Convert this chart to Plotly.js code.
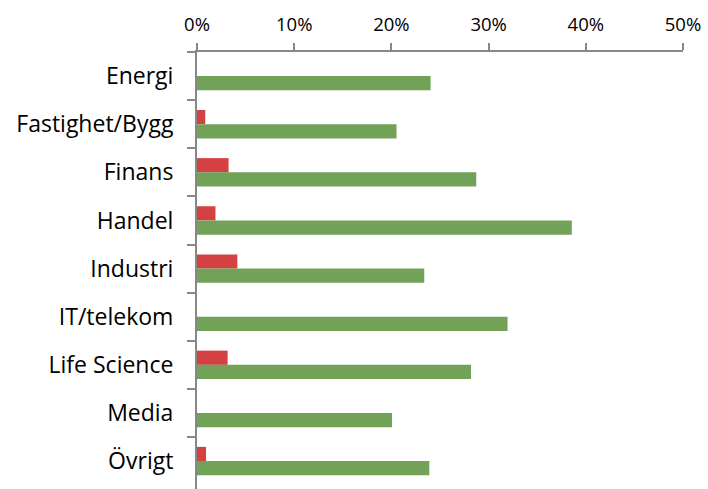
<!DOCTYPE html>
<html>
<head>
<meta charset="utf-8">
<script src="https://cdn.plot.ly/plotly-3.0.1.min.js"></script>
<style>html,body{margin:0;padding:0;background:#fff;}#chart{width:708px;height:489px;}</style>
</head>
<body>
<div id="chart"></div>
<script>
const categories = ["Energi","Fastighet/Bygg","Finans","Handel","Industri","IT/telekom","Life Science","Media","Övrigt"];
const redValues = [0, 0.0085, 0.0325, 0.019, 0.0415, 0, 0.0315, 0, 0.0093];
const greenValues = [0.2403, 0.2053, 0.2873, 0.3856, 0.2338, 0.3195, 0.2819, 0.2006, 0.2390];
const xTickVals = [0, 0.1, 0.2, 0.3, 0.4, 0.5];
const xTickText = ["0%","10%","20%","30%","40%","50%"];

const traces = [
  {type:'bar', orientation:'h', y:categories, x:redValues, name:'red',
   marker:{color:'#D34142', line:{width:0}}, hoverinfo:'x+y'},
  {type:'bar', orientation:'h', y:categories, x:greenValues, name:'green',
   marker:{color:'#72A158', line:{width:0}}, hoverinfo:'x+y'}
];

const axisColor = '#878787';
const layout = {
  width:708, height:489,
  margin:{l:197, r:25, t:52, b:0, pad:0},
  paper_bgcolor:'#fff', plot_bgcolor:'#fff',
  showlegend:false,
  barmode:'group', bargap:0.41, bargroupgap:0,
  font:{family:'"Open Sans", sans-serif', size:23, color:'#000'},
  xaxis:{side:'top', range:[0,0.5], tickvals:xTickVals, ticktext:xTickText,
    showgrid:false, zeroline:false, showline:true, linecolor:axisColor, linewidth:2,
    ticks:'outside', ticklen:7, tickwidth:2, tickcolor:axisColor, ticklabelstandoff:5,
    tickfont:{size:18.5}, fixedrange:true},
  yaxis:{range:[8.58,-0.5], showgrid:false, zeroline:false, showline:true,
    linecolor:axisColor, linewidth:2, ticks:'outside', ticklen:8, tickwidth:2,
    tickcolor:axisColor, tickson:'boundaries', ticklabelstandoff:17,
    tickfont:{size:23}, fixedrange:true}
};
Plotly.newPlot('chart', traces, layout, {displayModeBar:false, staticPlot:true});
</script>
</body>
</html>
